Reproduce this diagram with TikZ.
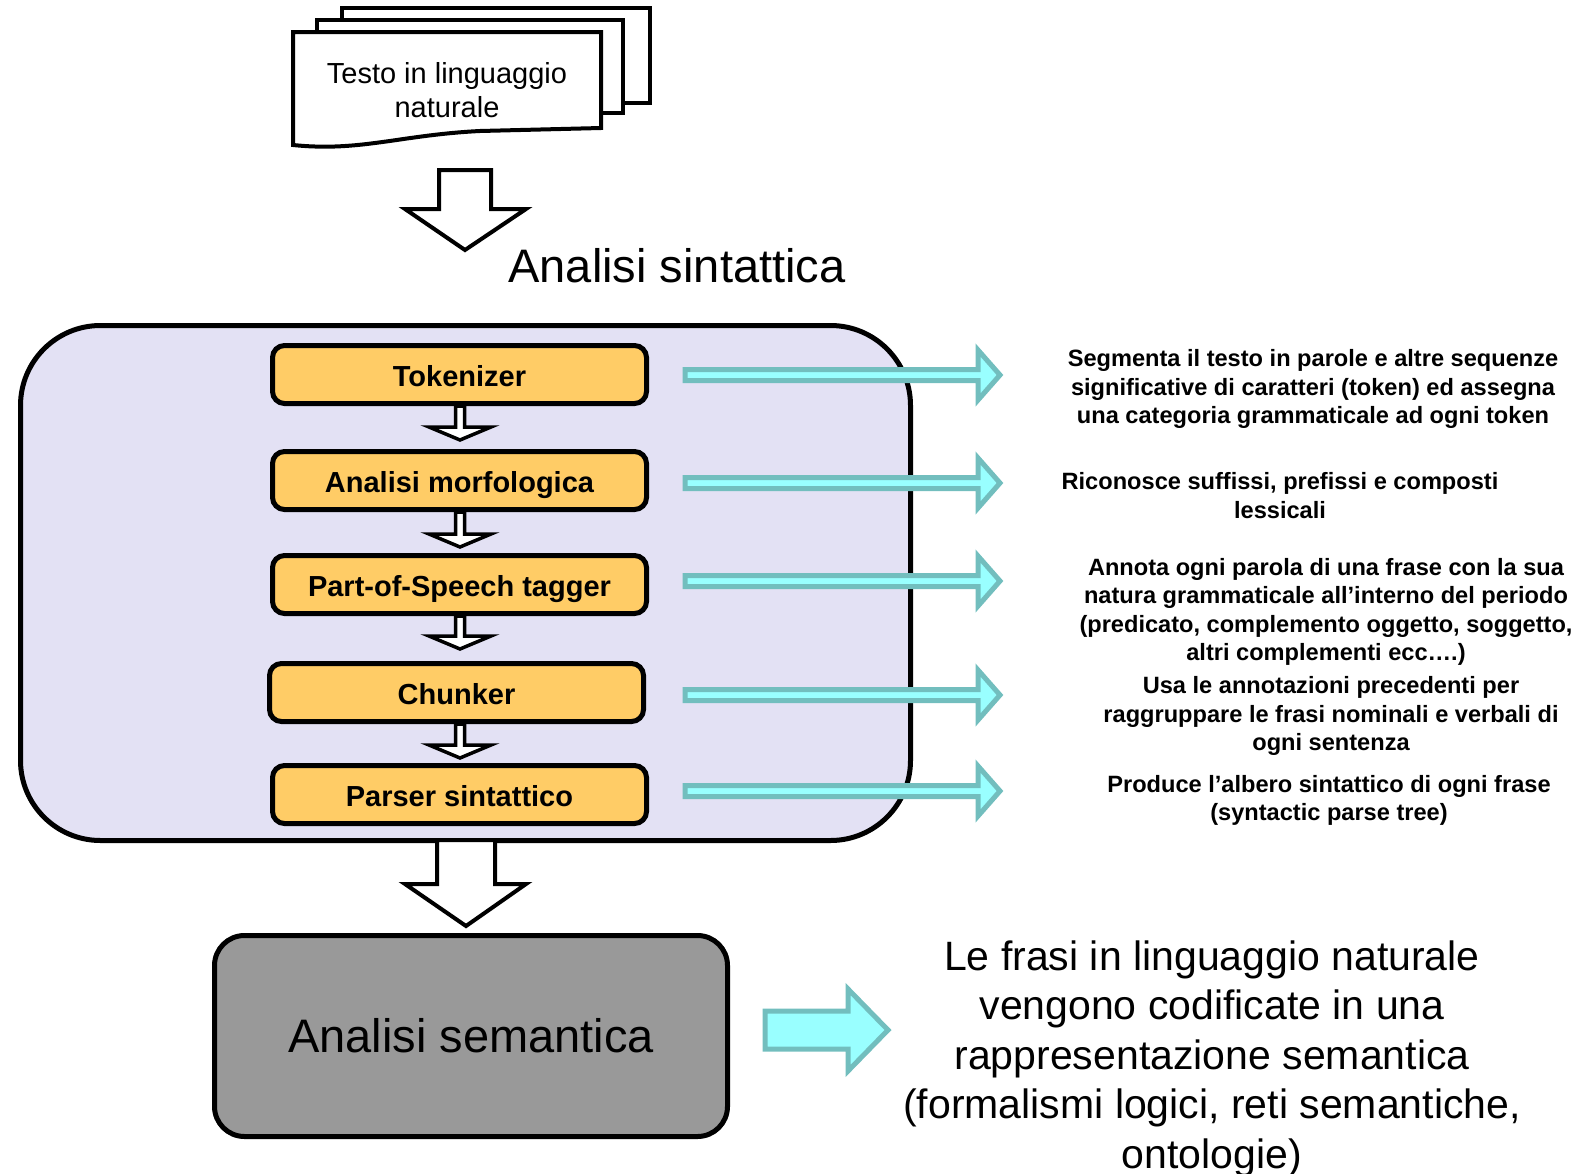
\documentclass[tikz,border=0pt]{standalone}
\usepackage{fontspec}
\setmainfont{Liberation Sans}
\definecolor{lav}{RGB}{227,225,244}
\definecolor{boxyellow}{RGB}{255,204,102}
\definecolor{cyanfill}{RGB}{153,255,255}
\definecolor{cyanborder}{RGB}{114,190,190}
\definecolor{semgray}{RGB}{153,153,153}
\newcommand{\cyanarr}[1]{%
  \draw[cyanarrow] (685,#1-5.5) -- (978,#1-5.5) -- (978,#1-25) -- (1000,#1) -- (978,#1+25) -- (978,#1+5.5) -- (685,#1+5.5) -- cycle;}
\newcommand{\smallarr}[2]{%
  \draw[smallhollow] (455.5,#1) -- (464.5,#1) -- (464.5,#2-13) -- (491,#2-13) -- (460,#2) -- (429,#2-13) -- (455.5,#2-13) -- cycle;}
\begin{document}
\begin{tikzpicture}[x=1pt,y=-1pt,
  page/.style={draw=black,line width=4pt,fill=white,line join=miter},
  bighollow/.style={draw=black,line width=4pt,fill=white,line join=miter},
  smallhollow/.style={draw=black,line width=3.5pt,fill=white,line join=miter},
  cyanarrow/.style={draw=cyanborder,line width=5pt,fill=cyanfill,line join=miter},
  stagebox/.style={draw=black,line width=5pt,fill=boxyellow,rounded corners=12pt,minimum width=374pt,minimum height=58pt,inner sep=0pt,text height=23pt,text depth=0pt,font=\fontsize{29}{35}\selectfont\bfseries},
  desc/.style={align=center,inner sep=0pt,font=\fontsize{23.6}{28.4}\selectfont\bfseries},
]
\useasboundingbox (0,0) rectangle (1593,1173);
% document stack
\draw[page] (342,8) rectangle (650,103);
\draw[page] (317,20) rectangle (623,113);
\draw[page] (293,32) -- (601,32) -- (601,128) -- (480,131) .. controls (400,135) and (360,152) .. (293,145) -- cycle;
\node[align=center,inner sep=0pt,font=\fontsize{29}{34.5}\selectfont] (doc) at (447,90) {Testo in linguaggio\\naturale};
% big arrow 1
\draw[bighollow] (439,170) -- (491,170) -- (491,209) -- (526,209) -- (465,250) -- (405,209) -- (439,209) -- cycle;
\node[inner sep=0pt,font=\fontsize{47}{56}\selectfont] (sint) at (677,266) {Analisi sintattica};
% container
\draw[draw=black,line width=5pt,fill=lav,rounded corners=80pt] (20.5,325.5) rectangle (910.5,840.5);
% stage boxes
\node[stagebox] (tok) at (459.5,374.5) {Tokenizer};
\node[stagebox] (morf) at (459.5,480.5) {Analisi morfologica};
\node[stagebox] (pos) at (459.5,584.5) {Part-of-Speech tagger};
\node[stagebox] (chunk) at (456.5,692.5) {Chunker};
\node[stagebox] (pars) at (459.5,794.5) {Parser sintattico};
% small arrows
\smallarr{406}{440}
\smallarr{512}{547}
\smallarr{616}{649}
\smallarr{724}{758}
% cyan arrows
\cyanarr{375}
\cyanarr{483}
\cyanarr{581}
\cyanarr{695}
\cyanarr{791}
% descriptions
\node[desc] (d1) at (1313,389) {Segmenta il testo in parole e altre sequenze\\significative di caratteri (token) ed assegna\\una categoria grammaticale ad ogni token};
\node[desc] (d2) at (1280,495.5) {Riconosce suffissi, prefissi e composti\\lessicali};
\node[desc] (d3) at (1326,612) {Annota ogni parola di una frase con la sua\\natura grammaticale all’interno del periodo\\(predicato, complemento oggetto, soggetto,\\altri complementi ecc….)};
\node[desc] (d4) at (1331,716) {Usa le annotazioni precedenti per\\raggruppare le frasi nominali e verbali di\\ogni sentenza};
\node[desc] (d5) at (1329,800.5) {Produce l’albero sintattico di ogni frase\\(syntactic parse tree)};
% big arrow 2
\draw[bighollow] (437,840) -- (495,840) -- (495,884) -- (526,884) -- (466,926) -- (405,884) -- (437,884) -- cycle;
% semantic box
\node[draw=black,line width=5pt,fill=semgray,rounded corners=30pt,minimum width=513pt,minimum height=201pt,inner sep=0pt,font=\fontsize{47}{56}\selectfont] (sem) at (471,1036) {Analisi semantica};
% big cyan arrow
\draw[cyanarrow] (765,1011) -- (848,1011) -- (848,989) -- (888,1030) -- (848,1071) -- (848,1049) -- (765,1049) -- cycle;
\node[align=center,inner sep=0pt,font=\fontsize{41}{49.5}\selectfont] (semtext) at (1212,1058.5) {Le frasi in linguaggio naturale\\vengono codificate in una\\rappresentazione semantica\\(formalismi logici, reti semantiche,\\ontologie)};
\end{tikzpicture}
\end{document}
